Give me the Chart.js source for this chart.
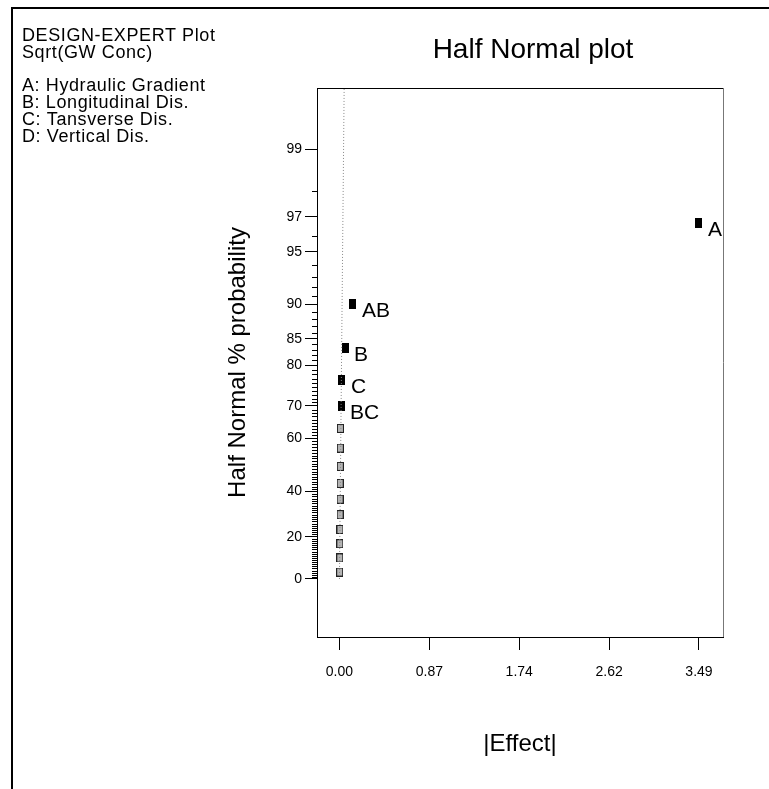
<!DOCTYPE html>
<html>
<head>
<meta charset="utf-8">
<title>Half Normal plot</title>
<script src="https://cdn.jsdelivr.net/npm/chart.js@4.4.1/dist/chart.umd.min.js"></script>
<style>
  body { margin: 0; background: #fff; }
  canvas { display: block; }
</style>
</head>
<body>
<canvas id="halfNormal" width="769" height="789"></canvas>
<script>
// Terms that stand out from the error line (labelled on the plot)
const termNames = ["A", "AB", "B", "C", "BC"];
const termEffects = [3.49, 0.131, 0.055, 0.024, 0.015];
const termProbs = [96.7, 90.0, 83.3, 76.7, 70.0]; // half normal % probability

// Remaining small effects, treated as error
const errorEffects = [0.009, 0.008, 0.008, 0.007, 0.006, 0.006, 0.005, 0.004, 0.003, 0.002];
const errorProbs = [63.3, 56.7, 50.0, 43.3, 36.7, 30.0, 23.3, 16.7, 10.0, 3.3];

// Line drawn through the error terms
const lineEffects = [0, 0.046];
const lineProbs = [0, 99.7];

// Axis ticks
const probTicks = [0, 20, 40, 60, 70, 80, 85, 90, 95, 97, 99];
const effectTicks = [0, 0.8725, 1.745, 2.6175, 3.49];
const effectTickLabels = ["0.00", "0.87", "1.74", "2.62", "3.49"];

const notes = [
  "DESIGN-EXPERT Plot",
  "Sqrt(GW Conc)",
  "",
  "A: Hydraulic Gradient",
  "B: Longitudinal Dis.",
  "C: Tansverse Dis.",
  "D: Vertical Dis."
];

const FONT = "'Liberation Sans', Arial, Helvetica, sans-serif";

// Inverse of the standard normal CDF (Acklam's approximation)
function probit(p) {
  const a = [-3.969683028665376e+01, 2.209460984245205e+02, -2.759285104469687e+02, 1.383577518672690e+02, -3.066479806614716e+01, 2.506628277459239e+00];
  const b = [-5.447609879822406e+01, 1.615858368580409e+02, -1.556989798598866e+02, 6.680131188771972e+01, -1.328068155288572e+01];
  const c = [-7.784894002430293e-03, -3.223964580411365e-01, -2.400758277161838e+00, -2.549732539343734e+00, 4.374664141464968e+00, 2.938163982698783e+00];
  const d = [7.784695709041462e-03, 3.224671290700398e-01, 2.445134137142996e+00, 3.754408661907416e+00];
  const low = 0.02425;
  let q, r;
  if (p < low) {
    q = Math.sqrt(-2 * Math.log(p));
    return (((((c[0] * q + c[1]) * q + c[2]) * q + c[3]) * q + c[4]) * q + c[5]) / ((((d[0] * q + d[1]) * q + d[2]) * q + d[3]) * q + 1);
  }
  if (p <= 1 - low) {
    q = p - 0.5;
    r = q * q;
    return (((((a[0] * r + a[1]) * r + a[2]) * r + a[3]) * r + a[4]) * r + a[5]) * q / (((((b[0] * r + b[1]) * r + b[2]) * r + b[3]) * r + b[4]) * r + 1);
  }
  q = Math.sqrt(-2 * Math.log(1 - p));
  return -(((((c[0] * q + c[1]) * q + c[2]) * q + c[3]) * q + c[4]) * q + c[5]) / ((((d[0] * q + d[1]) * q + d[2]) * q + d[3]) * q + 1);
}

// Half normal probability (%) -> position on the y scale
function halfNormalZ(pct) {
  return probit((1 + pct / 100) / 2);
}

function toPoints(xs, ps) {
  return xs.map((x, i) => ({ x: x, y: halfNormalZ(ps[i]) }));
}

// Small rectangular markers
function makeMarker(w, h, fill, stroke) {
  const c = document.createElement("canvas");
  c.width = w;
  c.height = h;
  const g = c.getContext("2d");
  g.fillStyle = fill;
  g.fillRect(0, 0, w, h);
  if (stroke) {
    g.strokeStyle = stroke;
    g.lineWidth = 1;
    g.strokeRect(0.5, 0.5, w - 1, h - 1);
  }
  return c;
}

const blackMarker = makeMarker(7, 10, "#000", null);
const grayMarker = makeMarker(7, 9, "#b4b4b4", "#222");

// Outer frame, title and the notes in the top left corner
const framePlugin = {
  id: "frame",
  afterDraw(chart) {
    const ctx = chart.ctx;
    const area = chart.chartArea;
    ctx.save();
    ctx.strokeStyle = "#000";
    ctx.lineWidth = 2;
    ctx.beginPath();
    ctx.moveTo(12, 789);
    ctx.lineTo(12, 8);
    ctx.lineTo(769, 8);
    ctx.stroke();

    ctx.fillStyle = "#000";
    ctx.textBaseline = "middle";
    ctx.textAlign = "center";
    ctx.font = "28px " + FONT;
    ctx.fillText("Half Normal plot", (area.left + area.right) / 2 + 13, 50);

    ctx.textAlign = "left";
    ctx.font = "18px " + FONT;
    ctx.letterSpacing = "0.6px";
    notes.forEach((line, i) => {
      if (line) ctx.fillText(line, 22, 36 + i * 16.8);
    });
    ctx.restore();
  }
};

// Top/right border of the plot, minor probability ticks and term labels
const plotPlugin = {
  id: "plotExtras",
  afterDatasetsDraw(chart) {
    const ctx = chart.ctx;
    const area = chart.chartArea;
    const yScale = chart.scales.y;
    ctx.save();
    ctx.lineWidth = 1;
    ctx.strokeStyle = "#000";
    ctx.beginPath();
    ctx.moveTo(area.left, area.top + 0.5);
    ctx.lineTo(area.right, area.top + 0.5);
    ctx.stroke();
    ctx.strokeStyle = "#777";
    ctx.beginPath();
    ctx.moveTo(area.right + 0.5, area.top);
    ctx.lineTo(area.right + 0.5, area.bottom);
    ctx.stroke();

    // minor ticks at every whole percent
    ctx.strokeStyle = "#000";
    ctx.beginPath();
    for (let p = 1; p < 100; p++) {
      if (probTicks.includes(p)) continue;
      const y = Math.round(yScale.getPixelForValue(halfNormalZ(p))) + 0.5;
      ctx.moveTo(area.left - 5, y);
      ctx.lineTo(area.left, y);
    }
    ctx.stroke();

    // names next to the standing-out terms
    const meta = chart.getDatasetMeta(2);
    ctx.fillStyle = "#000";
    ctx.font = "21px " + FONT;
    ctx.textBaseline = "middle";
    meta.data.forEach((pt, i) => {
      ctx.fillText(termNames[i], pt.x + 9, pt.y + 7);
    });
    ctx.restore();
  }
};

const ctx = document.getElementById("halfNormal").getContext("2d");

new Chart(ctx, {
  type: "scatter",
  data: {
    datasets: [
      {
        data: toPoints(lineEffects, lineProbs),
        showLine: true,
        borderColor: "#888",
        borderWidth: 1,
        borderDash: [1, 2],
        pointRadius: 0
      },
      {
        data: toPoints(errorEffects, errorProbs),
        pointStyle: grayMarker
      },
      {
        data: toPoints(termEffects, termProbs),
        pointStyle: blackMarker
      }
    ]
  },
  options: {
    responsive: false,
    animation: false,
    layout: { padding: { left: 0, top: 88, right: 46, bottom: 0 } },
    plugins: {
      legend: { display: false },
      tooltip: { enabled: false },
      title: { display: false }
    },
    scales: {
      x: {
        type: "linear",
        min: -0.218,
        max: 3.723,
        afterFit(scale) { scale.height = 152; },
        afterBuildTicks(scale) {
          scale.ticks = effectTicks.map(v => ({ value: v }));
        },
        ticks: {
          autoSkip: false,
          maxRotation: 0,
          padding: 14,
          color: "#000",
          font: { family: FONT, size: 14 },
          callback: (value, index) => effectTickLabels[index]
        },
        grid: { drawOnChartArea: false, tickLength: 13, color: "#000" },
        border: { color: "#000" },
        title: {
          display: true,
          text: "|Effect|",
          color: "#000",
          font: { family: FONT, size: 24 },
          padding: { bottom: 30 }
        }
      },
      y: {
        type: "linear",
        min: -0.348,
        max: 2.942,
        afterFit(scale) { scale.width = 317; },
        afterBuildTicks(scale) {
          scale.ticks = probTicks.map(p => ({ value: halfNormalZ(p) }));
        },
        ticks: {
          autoSkip: false,
          padding: 3,
          color: "#000",
          font: { family: FONT, size: 14 },
          callback: (value, index) => String(probTicks[index])
        },
        grid: { drawOnChartArea: false, tickLength: 12, color: "#000" },
        border: { color: "#000" },
        title: {
          display: true,
          text: "Half Normal % probability",
          color: "#000",
          font: { family: FONT, size: 24 },
          padding: { top: 224 }
        }
      }
    }
  },
  plugins: [framePlugin, plotPlugin]
});
</script>
</body>
</html>
